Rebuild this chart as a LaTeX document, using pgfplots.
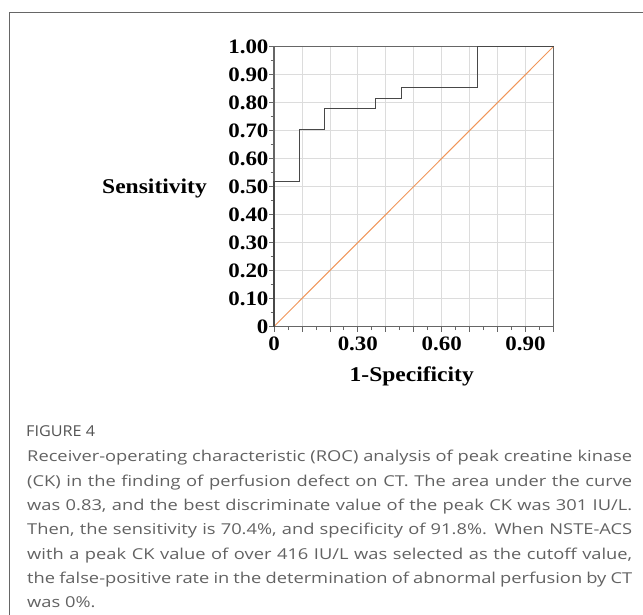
\documentclass[border=0pt]{standalone}
\usepackage{pgfplots}
\pgfplotsset{compat=1.18}
\usepackage{fontspec}
\setmainfont[FakeStretch=1.12]{Liberation Serif}
\newfontfamily\capfont[FakeStretch=1.22]{Open Sans}
\newfontfamily\figfont[FakeStretch=1.08]{Open Sans}
\definecolor{roc}{HTML}{484848}
\definecolor{diag}{RGB}{240,150,90}
\definecolor{gridc}{HTML}{DCDCDC}
\definecolor{axc}{HTML}{666666}
\definecolor{capc}{HTML}{626262}
\begin{document}
\begin{tikzpicture}[x=1pt,y=1pt]
\path[use as bounding box] (0,0) rectangle (643,614);
\draw[axc, line width=1pt] (9.3,-10) -- (9.3,601.7) -- (660,601.7);
\begin{axis}[
  at={(274pt,287.5pt)}, anchor=south west,
  scale only axis, width=279.5pt, height=280pt,
  xmin=0, xmax=1, ymin=0, ymax=1,
  /pgf/number format/assume math mode=true,
  axis line style={draw=axc, line width=1.2pt},
  xtick={0,0.1,0.2,0.3,0.4,0.5,0.6,0.7,0.8,0.9,1},
  xticklabels={0,,,0.30,,,0.60,,,0.90,},
  ytick={0,0.1,0.2,0.3,0.4,0.5,0.6,0.7,0.8,0.9,1},
  yticklabels={0,0.10,0.20,0.30,0.40,0.50,0.60,0.70,0.80,0.90,1.00},
  minor x tick num=1, minor y tick num=1,
  xtick pos=bottom, ytick pos=left,
  tick align=outside,
  major tick length=5pt, minor tick length=3.5pt,
  every tick/.style={draw=axc, line width=0.8pt},
  grid=major,
  major grid style={draw=gridc, line width=0.8pt},
  tick label style={font=\fontsize{20.5}{22}\selectfont\bfseries},
  xticklabel style={yshift=-2pt},
  yticklabel style={xshift=3pt},
  every axis x label/.style={at={(axis description cs:0.5,0)}, anchor=base, yshift=-55.2pt, xshift=-2pt, font=\fontsize{21}{22}\selectfont\bfseries},
  every axis y label/.style={at={(axis description cs:0,0.5)}, anchor=base east, xshift=-63.7pt, yshift=-6.9pt, font=\fontsize{21}{22}\selectfont\bfseries},
  xlabel={1-Specificity},
  ylabel={Sensitivity},
  clip=false,
]
\addplot[diag, line width=1pt] coordinates {(0,0) (1,1)};
\addplot[roc, line width=1.1pt] coordinates {
  (0,0) (0,0.519) (0.091,0.519) (0.091,0.704) (0.182,0.704) (0.182,0.778)
  (0.364,0.778) (0.364,0.815) (0.455,0.815) (0.455,0.852) (0.728,0.852)
  (0.728,1) (1,1)};
\end{axis}
\node[anchor=base west, inner sep=0, font=\figfont\fontsize{15}{17}\selectfont, text=capc!85!black] at (26,177.3) {FIGURE 4};
\begin{scope}[every node/.style={anchor=base west, inner sep=0, font=\capfont\fontsize{15}{18}\selectfont, text=capc}]
\node at (27,152.3) {\makebox[605pt][s]{Receiver-operating characteristic (ROC) analysis of peak creatine kinase}};
\node at (27,128.0) {\makebox[605pt][s]{(CK) in the finding of perfusion defect on CT. The area under the curve}};
\node at (27,103.7) {\makebox[605pt][s]{was 0.83, and the best discriminate value of the peak CK was 301 IU/L.}};
\node at (27,79.4) {\makebox[605pt][s]{Then, the sensitivity is 70.4\%, and specificity of 91.8\%. When NSTE-ACS}};
\node at (27,55.0) {\makebox[605pt][s]{with a peak CK value of over 416 IU/L was selected as the cutoff value,}};
\node at (27,30.7) {\makebox[605pt][s]{the false-positive rate in the determination of abnormal perfusion by CT}};
\node at (27,6.4) {was 0\%.};
\end{scope}
\end{tikzpicture}
\end{document}
